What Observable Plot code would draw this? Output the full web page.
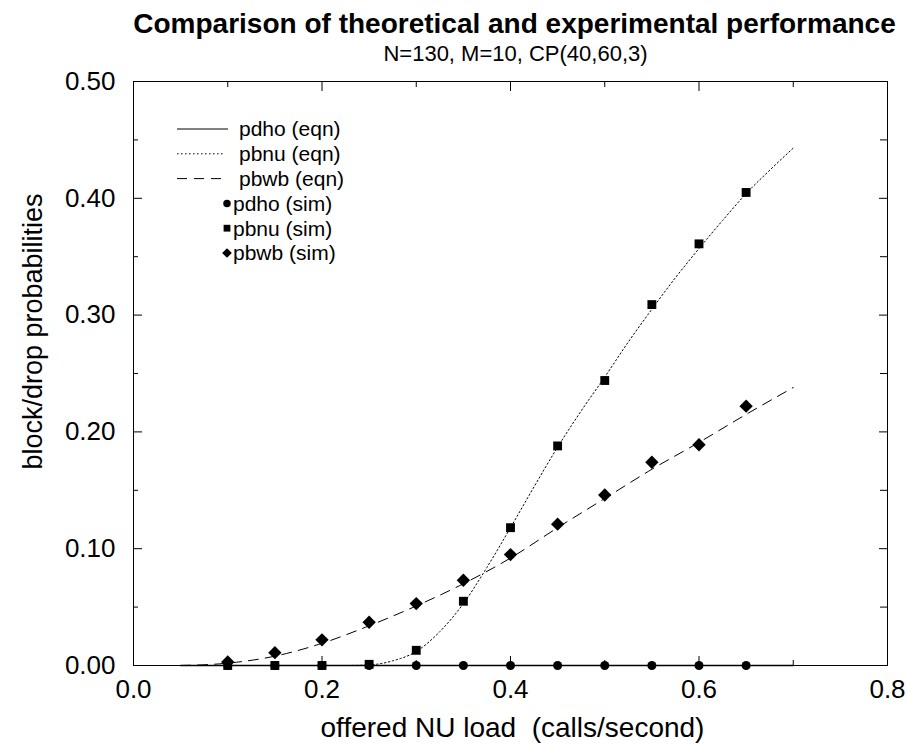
<!DOCTYPE html>
<html>
<head>
<meta charset="utf-8">
<script src="https://cdn.jsdelivr.net/npm/d3@7"></script>
<script src="https://cdn.jsdelivr.net/npm/@observablehq/plot@0.6"></script>
<style>
  html, body { margin: 0; padding: 0; background: #fff; }
  #chart { width: 907px; height: 745px; }
  svg text { white-space: pre; }
</style>
</head>
<body>
<div id="chart"></div>
<script>
// ---- texts ----
const titleText = "Comparison of theoretical and experimental performance";
const subtitleText = "N=130, M=10, CP(40,60,3)";
const xLabelText = "offered NU load  (calls/second)";
const yLabelText = "block/drop probabilities";

// ---- ticks ----
const xMajorTicks = [0, 0.2, 0.4, 0.6, 0.8];
const xMinorTicks = [0.1, 0.3, 0.5, 0.7];
const yMajorTicks = [0, 0.1, 0.2, 0.3, 0.4, 0.5];
const yMinorTicks = [0.05, 0.15, 0.25, 0.35, 0.45];

// ---- simulation points ----
const simLoad = [0.10, 0.15, 0.20, 0.25, 0.30, 0.35, 0.40, 0.45, 0.50, 0.55, 0.60, 0.65];
const pdhoSim = [0, 0, 0, 0, 0, 0, 0, 0, 0, 0, 0, 0];
const pbnuSim = [0, 0, 0, 0.001, 0.013, 0.055, 0.118, 0.188, 0.244, 0.309, 0.361, 0.405];
const pbwbSim = [0.003, 0.011, 0.022, 0.037, 0.053, 0.073, 0.095, 0.121, 0.146, 0.174, 0.189, 0.222];

// ---- equation curves ----
const eqnLoad = [0.05, 0.10, 0.15, 0.20, 0.25, 0.30, 0.35, 0.40, 0.45, 0.50, 0.55, 0.60, 0.65, 0.70];
const pdhoEqn = [0, 0, 0, 0, 0, 0, 0, 0, 0, 0, 0, 0, 0, 0];
const pbwbEqn = [0, 0.002, 0.008, 0.019, 0.034, 0.051, 0.070, 0.092, 0.118, 0.143, 0.168, 0.191, 0.215, 0.238];
const pbnuEqnLoad = [0.05, 0.10, 0.15, 0.20, 0.225, 0.25, 0.275, 0.30, 0.325, 0.35, 0.375, 0.40, 0.425, 0.45,
                     0.475, 0.50, 0.525, 0.55, 0.575, 0.60, 0.625, 0.65, 0.675, 0.70];
const pbnuEqn = [0, 0, 0, 0, 0, 0.0005, 0.004, 0.012, 0.029, 0.053, 0.084, 0.118, 0.153, 0.187,
                 0.218, 0.247, 0.277, 0.305, 0.332, 0.357, 0.381, 0.404, 0.424, 0.443];

// ---- legend ----
const legendNames = ["pdho (eqn)", "pbnu (eqn)", "pbwb (eqn)", "pdho (sim)", "pbnu (sim)", "pbwb (sim)"];

const FONT = "'Liberation Sans', Arial, Helvetica, sans-serif";
const rows = (xs, ys) => xs.map((x, i) => ({x, y: ys[i]}));

const DOTTED = "1.5,2.5";
const DASHED = "10,7";

const plot = Plot.plot({
  width: 907,
  height: 745,
  marginLeft: 133,
  marginRight: 20,
  marginTop: 81,
  marginBottom: 80,
  style: {fontFamily: FONT, background: "white", color: "black", overflow: "visible"},
  x: {domain: [0, 0.8], axis: null, label: null},
  y: {domain: [0, 0.5], axis: null, label: null},
  marks: [
    // frame
    Plot.frame({stroke: "black", strokeWidth: 1}),
    // equation curves
    Plot.line(rows(eqnLoad, pdhoEqn), {x: "x", y: "y", curve: "monotone-x", stroke: "black", strokeWidth: 1.5}),
    Plot.line(rows(pbnuEqnLoad, pbnuEqn), {x: "x", y: "y", curve: "monotone-x", stroke: "black", strokeWidth: 1, strokeDasharray: DOTTED}),
    Plot.line(rows(eqnLoad, pbwbEqn), {x: "x", y: "y", curve: "monotone-x", stroke: "black", strokeWidth: 1, strokeDasharray: DASHED}),
    // simulation points
    Plot.dot(rows(simLoad, pdhoSim), {x: "x", y: "y", symbol: "circle", r: 4.5, fill: "black", stroke: "none"}),
    Plot.dot(rows(simLoad, pbnuSim), {x: "x", y: "y", symbol: "square", r: 5, fill: "black", stroke: "none"}),
    Plot.dot(rows(simLoad, pbwbSim), {x: "x", y: "y", symbol: "diamond2", r: 6, fill: "black", stroke: "none"}),
    // inward ticks
    Plot.axisX(xMajorTicks, {anchor: "bottom", tickSize: -9, tickFormat: () => "", label: null}),
    Plot.axisX(xMinorTicks, {anchor: "bottom", tickSize: -5, tickFormat: () => "", label: null}),
    Plot.axisX(xMajorTicks, {anchor: "top", tickSize: -9, tickFormat: () => "", label: null}),
    Plot.axisX(xMinorTicks, {anchor: "top", tickSize: -5, tickFormat: () => "", label: null}),
    Plot.axisY(yMajorTicks, {anchor: "left", tickSize: -9, tickFormat: () => "", label: null}),
    Plot.axisY(yMinorTicks, {anchor: "left", tickSize: -5, tickFormat: () => "", label: null}),
    Plot.axisY(yMajorTicks, {anchor: "right", tickSize: -9, tickFormat: () => "", label: null}),
    Plot.axisY(yMinorTicks, {anchor: "right", tickSize: -8, tickFormat: () => "", label: null}),
    // tick labels
    Plot.axisX(xMajorTicks, {anchor: "bottom", tickSize: 0, tickPadding: 14, tickFormat: d3.format(".1f"), fontSize: 26, label: null}),
    Plot.axisY(yMajorTicks, {anchor: "left", tickSize: 0, tickPadding: 18, tickFormat: d3.format(".2f"), fontSize: 26, label: null}),
    // titles and axis labels
    Plot.text([titleText], {text: d => d, frameAnchor: "top", dx: 4, dy: -49, lineAnchor: "bottom", fontSize: 28, fontWeight: "bold"}),
    Plot.text([subtitleText], {text: d => d, frameAnchor: "top", dx: 5, dy: -21, lineAnchor: "bottom", fontSize: 22}),
    Plot.text([xLabelText], {text: d => d, frameAnchor: "bottom", dx: 2, dy: 71, lineAnchor: "bottom", fontSize: 28}),
    Plot.text([yLabelText], {text: d => d, frameAnchor: "left", textAnchor: "middle", dx: -92, dy: -42, rotate: -90, lineAnchor: "bottom", fontSize: 27})
  ]
});

// ---- legend (drawn inside the plot, upper left) ----
const svg = d3.select(plot);
const lg = svg.append("g").attr("class", "legend")
  .attr("font-family", FONT).attr("font-size", 21).attr("fill", "black")
  .attr("text-anchor", "start");
const top0 = 129, gap = 24.8;
const lineDash = [null, DOTTED, DASHED];
const lineEnd = [228, 224, 222];
const symbols = [
  d3.symbol(d3.symbolCircle, 44),
  d3.symbol(d3.symbolSquare, 46),
  d3.symbol(d3.symbolDiamond2, 60)
];
legendNames.forEach((name, i) => {
  const y = top0 + gap * i;
  if (i < 3) {
    const ln = lg.append("line")
      .attr("x1", 177).attr("x2", lineEnd[i]).attr("y1", y).attr("y2", y)
      .attr("stroke", "black").attr("stroke-width", 1);
    if (lineDash[i]) ln.attr("stroke-dasharray", lineDash[i]);
    lg.append("text").attr("x", 239).attr("y", y).attr("dy", "0.35em").attr("text-anchor", "start").text(name);
  } else {
    lg.append("path").attr("d", symbols[i - 3]()).attr("transform", `translate(227,${y})`).attr("fill", "black");
    lg.append("text").attr("x", 233).attr("y", y).attr("dy", "0.35em").attr("text-anchor", "start").text(name);
  }
});

document.getElementById("chart").appendChild(plot);
</script>
</body>
</html>
